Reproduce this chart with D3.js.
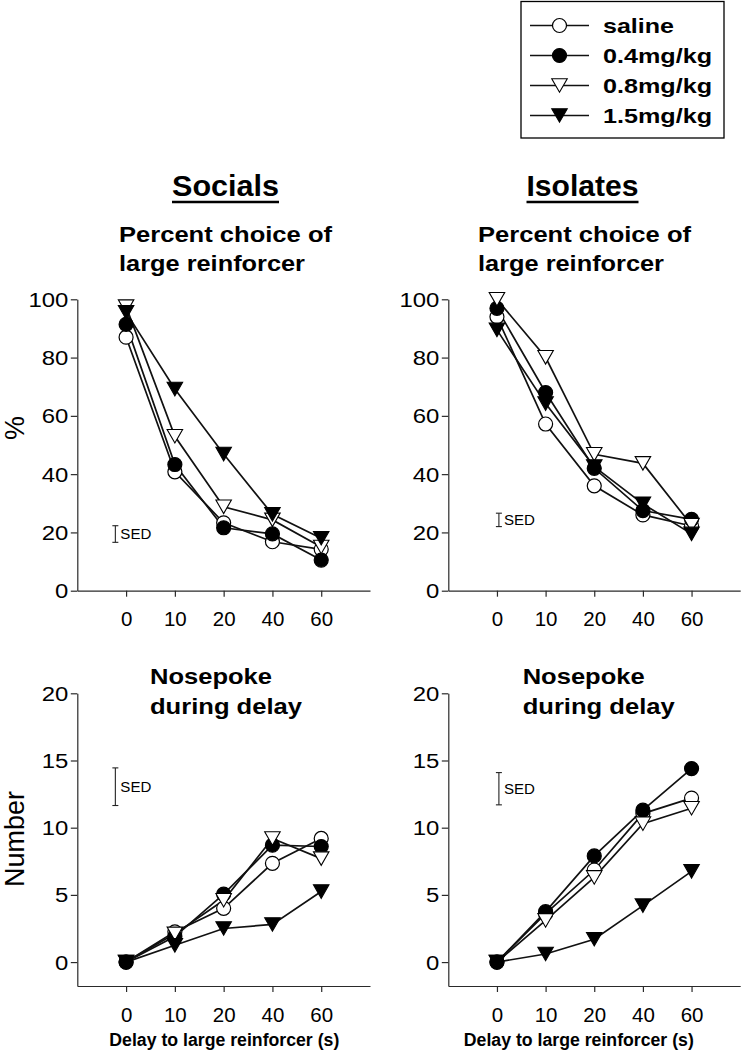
<!DOCTYPE html>
<html><head><meta charset="utf-8">
<script src="https://cdn.jsdelivr.net/npm/d3@7"></script>
<style>body{margin:0;background:#fff}svg{display:block;background:#fff}text{font-family:Arial,"Liberation Sans",Helvetica,sans-serif}</style>
</head><body><svg id="c" width="742" height="1051"></svg>
<script>
// ---------- data ----------
const delays = ["0", "10", "20", "40", "60"];
const groups = ["saline", "0.4mg/kg", "0.8mg/kg", "1.5mg/kg"];

const socialsPctSaline = [87.0, 40.8, 23.3, 16.8, 14.2];
const socialsPct04     = [91.4, 43.3, 21.6, 19.5, 10.5];
const socialsPct08     = [97.5, 53.0, 28.8, 24.3, 15.0];
const socialsPct15     = [95.5, 69.2, 46.9, 26.2, 18.0];

const isolatesPctSaline = [94.0, 57.2, 36.0, 26.0, 22.2];
const isolatesPct04     = [96.9, 68.0, 42.0, 27.5, 24.5];
const isolatesPct08     = [100.0, 80.1, 46.8, 43.7, 22.5];
const isolatesPct15     = [89.5, 64.2, 42.6, 29.8, 19.5];

const socialsNumSaline = [0, 2.25, 4.0, 7.35, 9.2];
const socialsNum04     = [0, 1.9, 5.05, 8.7, 8.6];
const socialsNum08     = [0, 2.1, 4.6, 9.2, 7.7];
const socialsNum15     = [0, 1.25, 2.5, 2.8, 5.25];

const isolatesNumSaline = [0, 3.6, 6.85, 11.05, 12.2];
const isolatesNum04     = [0, 3.75, 7.9, 11.3, 14.4];
const isolatesNum08     = [0, 3.1, 6.3, 10.3, 11.45];
const isolatesNum15     = [0, 0.6, 1.7, 4.2, 6.75];

const sedSocialsPct  = [16.6, 22.3];
const sedIsolatesPct = [22.0, 26.6];
const sedSocialsNum  = [11.65, 14.45];
const sedIsolatesNum = [11.7, 14.1];

const pctTicks = [0, 20, 40, 60, 80, 100];
const numTicks = [0, 5, 10, 15, 20];

// ---------- styles ----------
const ink = "#111";
const axisInk = "#2a2a2a";
const markerStyles = [
  {shape: "circle", fill: "#fff"},
  {shape: "circle", fill: "#000"},
  {shape: "tri", fill: "#fff"},
  {shape: "tri", fill: "#000"}
];

const svg = d3.select("#c");
svg.append("rect").attr("width", 742).attr("height", 1051).attr("fill", "#fff");

function marker(sel, style, cx, cy) {
  if (style.shape === "circle") {
    sel.append("circle").attr("cx", cx).attr("cy", cy).attr("r", 7)
      .attr("fill", style.fill).attr("stroke", "#000").attr("stroke-width", 1.2);
  } else {
    const w = 15.5, h = 13.5;
    sel.append("path")
      .attr("d", `M${cx - w / 2},${cy - h / 2}L${cx + w / 2},${cy - h / 2}L${cx},${cy + h / 2}Z`)
      .attr("fill", style.fill).attr("stroke", "#000").attr("stroke-width", 1.1)
      .attr("stroke-linejoin", "miter");
  }
}

function drawPanel(o) {
  const x = d3.scaleLinear().domain([0, 6]).range(o.xr);
  const y = d3.scaleLinear().domain(o.yd).range(o.yr);
  const g = svg.append("g");

  // y axis
  const ya = g.append("g").attr("transform", `translate(${o.xr[0]},0)`)
    .call(d3.axisLeft(y).tickValues(o.yt).tickSize(6.5).tickSizeOuter(0).tickPadding(2.5));
  ya.attr("font-family", null).attr("font-size", null);
  ya.selectAll("path,line").attr("stroke", axisInk).attr("stroke-width", 1.2);
  ya.selectAll("text").attr("fill", "#000").style("font-size", "19.5px")
    .attr("dy", "0.36em")
    .attr("textLength", d => String(d).length * 13.3)
    .attr("lengthAdjust", "spacingAndGlyphs");

  // x axis
  const xa = g.append("g").attr("transform", `translate(0,${o.yr[0]})`)
    .call(d3.axisBottom(x).tickValues([1, 2, 3, 4, 5]).tickFormat(i => delays[i - 1])
      .tickSize(6).tickSizeOuter(0));
  xa.attr("font-family", null).attr("font-size", null);
  xa.selectAll("path,line").attr("stroke", axisInk).attr("stroke-width", 1.2);
  xa.selectAll("text").attr("fill", "#000").style("font-size", "20.5px")
    .attr("y", 35.5).attr("dy", 0);

  // series
  const line = d3.line().x((d, i) => x(i + 1)).y(d => y(d));
  o.series.forEach((s) => {
    g.append("path").datum(s).attr("d", line).attr("fill", "none")
      .attr("stroke", ink).attr("stroke-width", 1.7);
  });
  o.series.forEach((s, k) => {
    s.forEach((v, i) => marker(g, markerStyles[k], x(i + 1), y(v)));
  });

  // SED bar
  const sx = x(o.sedPos);
  const y0 = y(o.sed[0]), y1 = y(o.sed[1]);
  g.append("line").attr("x1", sx).attr("x2", sx).attr("y1", y0).attr("y2", y1)
    .attr("stroke", "#222").attr("stroke-width", 1.1);
  [y0, y1].forEach(yy => g.append("line").attr("x1", sx - 3).attr("x2", sx + 3)
    .attr("y1", yy).attr("y2", yy).attr("stroke", "#222").attr("stroke-width", 1.1));
  g.append("text").attr("x", sx + 5).attr("y", (y0 + y1) / 2).attr("dy", "0.36em")
    .style("font-size", "14px").attr("textLength", 31).attr("lengthAdjust", "spacingAndGlyphs")
    .text("SED");
}

drawPanel({xr: [77.3, 370], yd: [0, 100], yr: [590.7, 299.3], yt: pctTicks,
  series: [socialsPctSaline, socialsPct04, socialsPct08, socialsPct15],
  sed: sedSocialsPct, sedPos: 0.78});
drawPanel({xr: [448.3, 740.2], yd: [0, 100], yr: [590.7, 299.3], yt: pctTicks,
  series: [isolatesPctSaline, isolatesPct04, isolatesPct08, isolatesPct15],
  sed: sedIsolatesPct, sedPos: 1.04});
drawPanel({xr: [77.3, 370], yd: [-1.78, 20], yr: [986, 693.3], yt: numTicks,
  series: [socialsNumSaline, socialsNum04, socialsNum08, socialsNum15],
  sed: sedSocialsNum, sedPos: 0.78});
drawPanel({xr: [448.3, 740.2], yd: [-1.78, 20], yr: [986, 693.3], yt: numTicks,
  series: [isolatesNumSaline, isolatesNum04, isolatesNum08, isolatesNum15],
  sed: sedIsolatesNum, sedPos: 1.04});

// ---------- texts ----------
function txt(x, y, s, size, opts = {}) {
  const t = svg.append("text").attr("x", x).attr("y", y).text(s)
    .style("font-size", size + "px").attr("fill", "#000");
  if (opts.bold) t.style("font-weight", "bold");
  if (opts.anchor) t.attr("text-anchor", opts.anchor);
  if (opts.len) t.attr("textLength", opts.len).attr("lengthAdjust", "spacingAndGlyphs");
  return t;
}

// group titles
[["Socials", 225.5, 107], ["Isolates", 582.5, 112]].forEach(([s, cx, w]) => {
  txt(cx, 196, s, 29, {bold: true, anchor: "middle", len: w});
  svg.append("line").attr("x1", cx - w / 2).attr("x2", cx + w / 2)
    .attr("y1", 202).attr("y2", 202).attr("stroke", "#000").attr("stroke-width", 2.4);
});

// panel titles
[119, 478].forEach(lx => {
  txt(lx, 242, "Percent choice of", 22.5, {bold: true, len: 213});
  txt(lx, 270.5, "large reinforcer", 22.5, {bold: true, len: 186});
});
[150, 522.7].forEach(lx => {
  txt(lx, 684, "Nosepoke", 22.5, {bold: true, len: 122});
  txt(lx, 713.5, "during delay", 22.5, {bold: true, len: 152});
});

// axis titles
[224.3, 578.8].forEach(cx => txt(cx, 1045.5, "Delay to large reinforcer (s)", 18, {bold: true, anchor: "middle", len: 230}));
txt(0, 0, "%", 27, {anchor: "middle"}).attr("transform", "translate(23.5,428) rotate(-90)");
txt(0, 0, "Number", 27, {anchor: "middle"}).attr("transform", "translate(23.5,839) rotate(-90)");

// ---------- legend ----------
const lg = svg.append("g");
lg.append("rect").attr("x", 521).attr("y", 1.5).attr("width", 203).attr("height", 136.5)
  .attr("fill", "#fff").attr("stroke", "#000").attr("stroke-width", 1.3);
const rowY = d3.scaleLinear().domain([0, 3]).range([25.5, 115.5]);
const legendLens = [71, 109, 109, 109];
groups.forEach((name, k) => {
  const yy = rowY(k);
  lg.append("line").attr("x1", 530).attr("x2", 589).attr("y1", yy).attr("y2", yy)
    .attr("stroke", ink).attr("stroke-width", 1.6);
  marker(lg, markerStyles[k], 559.5, yy);
  lg.append("text").attr("x", 603).attr("y", yy + 7.5).text(name)
    .style("font-size", "20.5px").style("font-weight", "bold")
    .attr("textLength", legendLens[k]).attr("lengthAdjust", "spacingAndGlyphs");
});
</script>
</body></html>
